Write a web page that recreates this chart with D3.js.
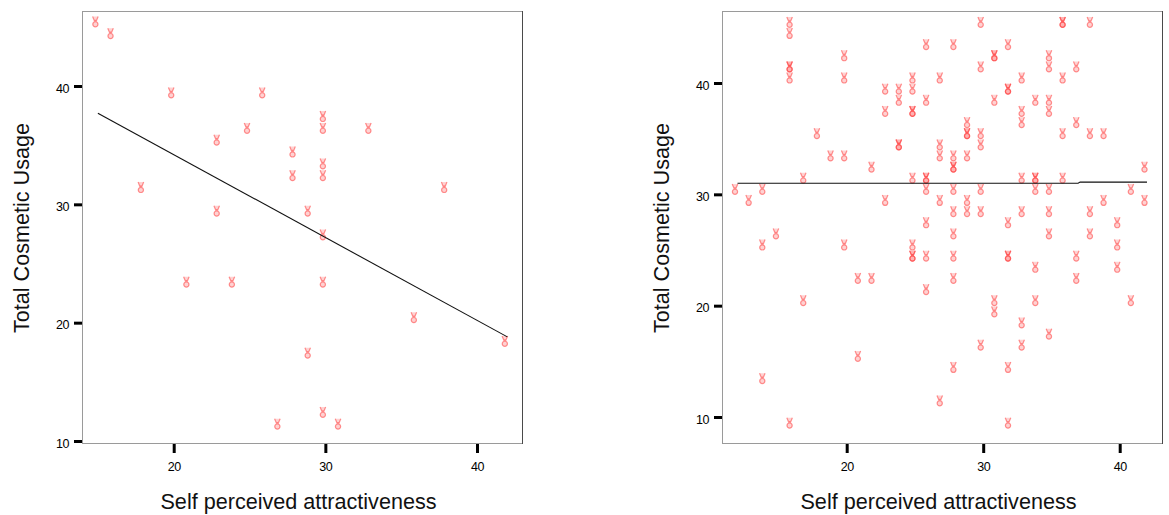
<!DOCTYPE html>
<html>
<head>
<meta charset="utf-8">
<script src="https://cdn.jsdelivr.net/npm/d3@7"></script>
<style>
  html, body { margin: 0; padding: 0; background: #fff; }
  svg { display: block; font-family: "Liberation Sans", Arial, sans-serif; }
</style>
</head>
<body>
<svg id="chart" width="1169" height="515"></svg>
<script>
// ---------- data ----------
const xTitle = "Self perceived attractiveness";
const yTitle = "Total Cosmetic Usage";

const xTicksLeft = [20, 30, 40];
const yTicksLeft = [10, 20, 30, 40];
const xTicksRight = [20, 30, 40];
const yTicksRight = [10, 20, 30, 40];

// left panel: attractiveness (x) vs cosmetic usage (y)
const leftX = [15, 16, 20, 26, 25, 23, 28, 28, 18, 23, 30, 30, 33, 30, 30, 38, 29, 30, 21, 24, 30, 36, 29, 30, 31, 42, 27];
const leftY = [45, 44, 39, 39, 36, 35, 34, 32, 31, 29, 37, 36, 36, 33, 32, 31, 29, 27, 23, 23, 23, 20, 17, 12, 11, 18, 11];
const leftFitX = [15, 42];
const leftFitY = [37.7, 18.8];

// right panel
const rightX = [16, 16, 16, 16, 16, 20, 20, 23, 24, 24, 23, 24, 24, 18, 19, 20, 22, 17, 12, 14, 13, 23, 15, 14, 20,
  30, 36, 36, 38, 26, 28, 32, 31, 31, 35, 30, 35, 37, 25, 27, 33, 36, 25, 32, 32, 26, 31, 34, 35,
  25, 25, 33, 35, 29, 33, 37, 29, 29, 30, 36, 38, 39, 27, 30, 27, 28, 29, 28, 28, 42,
  25, 26, 26, 33, 34, 34, 36, 26, 28, 30, 34, 35, 41, 27, 29, 39, 42, 28, 29, 30, 33, 35, 38,
  26, 32, 40, 28, 35, 38, 25, 40,
  21, 22, 17, 21, 14, 16,
  25, 25, 26, 28, 32, 32, 37, 34, 40, 28, 37, 26, 31, 34, 41, 31, 33, 35, 30, 33, 28, 32, 27, 32];
const rightY = [45, 44, 41, 41, 40, 42, 40, 39, 39, 38, 37, 34, 34, 35, 33, 33, 32, 31, 30, 30, 29, 29, 26, 25, 25,
  45, 45, 45, 45, 43, 43, 43, 42, 42, 42, 41, 41, 41, 40, 40, 40, 40, 39, 39, 39, 38, 38, 38, 38,
  37, 37, 37, 37, 36, 36, 36, 35, 35, 35, 35, 35, 35, 34, 34, 33, 33, 33, 32, 32, 32,
  31, 31, 31, 31, 31, 31, 31, 30, 30, 30, 30, 30, 30, 29, 29, 29, 29, 28, 28, 28, 28, 28, 28,
  27, 27, 27, 26, 26, 26, 25, 25,
  22, 22, 20, 15, 13, 9,
  24, 24, 24, 24, 24, 24, 24, 23, 23, 22, 22, 21, 20, 20, 20, 19, 18, 17, 16, 16, 14, 14, 11, 9];
const rightFitX = [12, 36.95, 37.1, 42];
const rightFitY = [31.0, 31.0, 31.1, 31.1];

// ---------- drawing ----------
const svg = d3.select("#chart");

const panels = [
  { xs: leftX, ys: leftY, fx: leftFitX, fy: leftFitY, xt: xTicksLeft, yt: yTicksLeft,
    left: 82, right: 522, top: 11, bottom: 443,
    xDom: [13.953, 42.967], yDom: [9.831, 46.338], yTitleX: 28.5 },
  { xs: rightX, ys: rightY, fx: rightFitX, fy: rightFitY, xt: xTicksRight, yt: yTicksRight,
    left: 722, right: 1162, top: 11, bottom: 443,
    xDom: [10.865, 43.099], yDom: [7.665, 46.467], yTitleX: 668.8 }
];

const glyphPath =
  "M-2.8,-5.4 L-0.8,-0.6 L0.8,-0.6 L2.8,-5.4 M0,-0.6 L0,-2.2 " +
  "M-2.6,2.4 a2.6,2.6 0 1,0 5.2,0 a2.6,2.6 0 1,0 -5.2,0";

panels.forEach(p => {
  const x = d3.scaleLinear().domain(p.xDom).range([p.left, p.right]);
  const y = d3.scaleLinear().domain(p.yDom).range([p.bottom, p.top]);
  const g = svg.append("g");

  // frame
  g.append("rect")
    .attr("x", p.left + 0.5).attr("y", p.top + 0.5)
    .attr("width", p.right - p.left).attr("height", p.bottom - p.top)
    .attr("fill", "none").attr("stroke", "#9a9a9a").attr("stroke-width", 1);
  g.append("line")
    .attr("x1", p.right + 0.5).attr("x2", p.right + 0.5)
    .attr("y1", p.top).attr("y2", p.bottom + 1)
    .attr("stroke", "#4a4a4a").attr("stroke-width", 1);

  // axes
  const ax = g.append("g").attr("transform", `translate(${p.left},0)`)
    .call(d3.axisLeft(y).tickValues(p.yt).tickSize(8).tickPadding(5));
  ax.select(".domain").remove();
  ax.selectAll(".tick line").attr("stroke", "#000").attr("stroke-width", 3);
  ax.selectAll(".tick text").attr("font-size", 12.5).attr("fill", "#000")
    .attr("font-family", "Liberation Sans, Arial, sans-serif").attr("dy", "0.5em")
    .attr("letter-spacing", -0.4);

  const bx = g.append("g").attr("transform", `translate(0,${p.bottom + 1})`)
    .call(d3.axisBottom(x).tickValues(p.xt).tickSize(9).tickPadding(9));
  bx.select(".domain").remove();
  bx.selectAll(".tick line").attr("stroke", "#000").attr("stroke-width", 3);
  bx.selectAll(".tick text").attr("font-size", 12.5).attr("fill", "#000")
    .attr("font-family", "Liberation Sans, Arial, sans-serif").attr("letter-spacing", -0.4);

  // titles
  g.append("text")
    .attr("x", (p.left + p.right) / 2 - 3.5).attr("y", 509)
    .attr("text-anchor", "middle").attr("font-size", 21.6).attr("fill", "#111")
    .text(xTitle);
  g.append("text")
    .attr("transform", `translate(${p.yTitleX},${(p.top + p.bottom) / 2 + 1}) rotate(-90)`)
    .attr("text-anchor", "middle").attr("font-size", 21.6).attr("fill", "#111")
    .text(yTitle);

  // points
  const pts = p.xs.map((v, i) => [v, p.ys[i]]);
  g.append("g").selectAll("path").data(pts).join("path")
    .attr("transform", d => `translate(${x(d[0]) - 2.5},${y(d[1]) - 5})`)
    .attr("d", glyphPath)
    .attr("fill", "#ff6b6b").attr("fill-opacity", 0.3)
    .attr("stroke", "#ff3d3d").attr("stroke-opacity", 0.55)
    .attr("stroke-width", 1.2).attr("stroke-linejoin", "round");

  // fit line
  const fit = p.fx.map((v, i) => [v, p.fy[i]]);
  g.append("path").datum(fit)
    .attr("d", d3.line().x(d => x(d[0])).y(d => y(d[1])))
    .attr("fill", "none").attr("stroke", "#111").attr("stroke-width", 1.1);
});
</script>
</body>
</html>
